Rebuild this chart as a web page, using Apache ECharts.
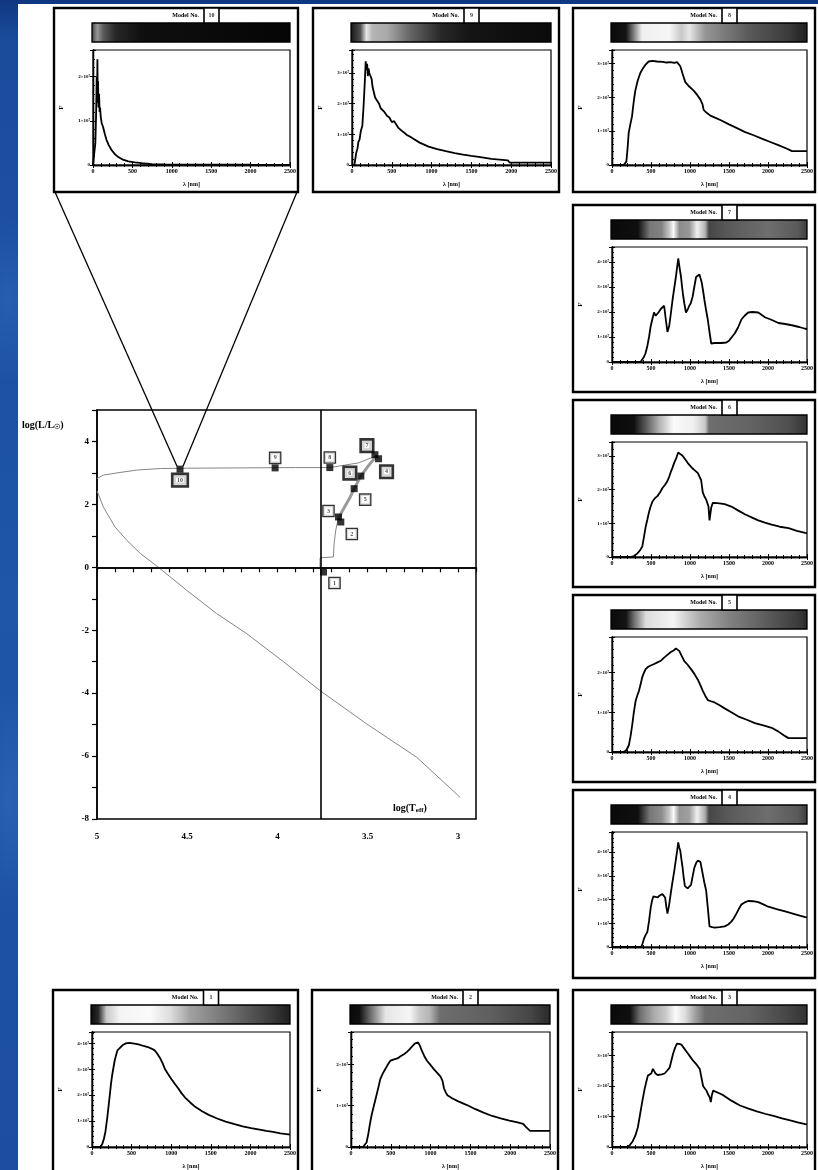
<!DOCTYPE html>
<html>
<head>
<meta charset="utf-8">
<script src="https://cdn.jsdelivr.net/npm/echarts@6/dist/echarts.min.js"></script>
<style>
  html, body { margin: 0; padding: 0; width: 818px; height: 1170px; overflow: hidden; }
  body {
    background:
      radial-gradient(ellipse 60px 120px at 8px 300px, rgba(60,120,200,0.35), rgba(0,0,0,0) 70%),
      radial-gradient(ellipse 50px 160px at 10px 800px, rgba(70,130,210,0.30), rgba(0,0,0,0) 70%),
      linear-gradient(180deg, #103780 0px, #1a4c9c 40px, #1f56a8 600px, #1b4e9e 1170px);
  }
  #sheet { position: absolute; left: 18px; top: 4px; width: 800px; height: 1166px; background: #fff; }
  #chart { position: absolute; left: 0; top: 0; width: 818px; height: 1170px; }
</style>
</head>
<body>
<div id="sheet"></div>
<div id="chart"></div>
<script>
// Stellar models along an evolutionary track: their place in the
// Hertzsprung–Russell diagram and the spectrum of each model.

// ---- HR diagram ----
const modelNo   = [1, 2, 3, 4, 5, 6, 7, 8, 9, 10];
const modelLogT = [3.745, 3.649, 3.662, 3.440, 3.575, 3.538, 3.460, 3.710, 4.013, 4.540];
const modelLogL = [-0.15, 1.44, 1.60, 3.45, 2.50, 2.90, 3.58, 3.17, 3.16, 3.12];

const sunLogT = 3.764;
const sunLogL = 0;

const trackEarly = [[3.764, 0.0], [3.764, 0.30], [3.690, 0.33], [3.686, 0.77], [3.677, 1.18], [3.665, 1.50]];
const trackGiant = [[3.665, 1.50], [3.640, 1.80], [3.600, 2.20], [3.575, 2.50], [3.538, 2.90], [3.500, 3.20], [3.450, 3.55]];
const trackPost  = [[3.450, 3.55], [3.550, 3.32], [3.710, 3.17], [3.900, 3.17], [4.200, 3.16],
                    [4.500, 3.15], [4.650, 3.14], [4.780, 3.09], [4.890, 3.00], [4.965, 2.93], [5.000, 2.82]];
const trackCooling = [[5.000, 2.43], [4.965, 1.92], [4.900, 1.28], [4.835, 0.86], [4.760, 0.44], [4.660, 0.00],
                      [4.503, -0.73], [4.337, -1.47], [4.170, -2.11], [3.967, -3.00], [3.764, -3.92],
                      [3.505, -4.98], [3.228, -6.04], [2.988, -7.31]];

const logTLabels = [3, 3.5, 4, 4.5, 5];
const logLLabels = [-8, -6, -4, -2, 0, 2, 4];

// ---- spectra: [wavelength nm, flux] ----
const spec1 = [[0,0],[107,0],[130,0.12],[150,0.31],[170,0.6],[192,1.11],[210,1.6],[226,2.04],[240,2.45],[256,2.8],[270,3.05],[286,3.33],[300,3.5],[321,3.73],[340,3.8],[363,3.86],[395,3.95],[427,4.0],[470,4.02],[513,4.0],[555,3.98],[598,3.95],[650,3.9],[705,3.86],[750,3.8],[791,3.73],[820,3.62],[855,3.46],[890,3.25],[919,3.02],[960,2.82],[1004,2.62],[1045,2.44],[1090,2.26],[1130,2.08],[1175,1.91],[1240,1.72],[1303,1.55],[1390,1.38],[1474,1.24],[1580,1.1],[1688,0.98],[1800,0.88],[1902,0.8],[2010,0.73],[2115,0.67],[2200,0.62],[2286,0.58],[2380,0.53],[2479,0.49],[2500,0.48]];
const spec2 = [[0,0],[151,0],[175,0.04],[195,0.11],[216,0.3],[238,0.56],[260,0.78],[281,0.95],[303,1.12],[324,1.28],[346,1.46],[368,1.64],[400,1.78],[433,1.89],[465,2.0],[497,2.09],[540,2.12],[584,2.14],[627,2.2],[670,2.25],[703,2.3],[735,2.36],[768,2.43],[800,2.5],[843,2.53],[865,2.45],[887,2.34],[920,2.2],[952,2.09],[995,1.99],[1038,1.89],[1080,1.8],[1125,1.7],[1150,1.6],[1168,1.42],[1190,1.32],[1211,1.25],[1270,1.18],[1341,1.11],[1450,1.02],[1557,0.92],[1665,0.83],[1773,0.75],[1880,0.69],[1990,0.64],[2080,0.6],[2163,0.56],[2200,0.48],[2249,0.39],[2487,0.39],[2500,0.39]];
const spec3 = [[0,0],[202,0],[234,0.08],[266,0.19],[300,0.38],[331,0.64],[352,0.95],[374,1.28],[396,1.6],[417,1.89],[438,2.12],[460,2.34],[482,2.38],[503,2.41],[524,2.56],[540,2.5],[558,2.41],[585,2.36],[610,2.34],[640,2.38],[674,2.41],[706,2.5],[739,2.6],[760,2.82],[782,3.05],[808,3.25],[833,3.39],[860,3.38],[889,3.36],[920,3.25],[954,3.13],[1000,2.97],[1040,2.83],[1085,2.7],[1125,2.56],[1145,2.3],[1168,2.0],[1190,1.92],[1211,1.85],[1233,1.72],[1254,1.62],[1267,1.47],[1280,1.7],[1297,1.85],[1360,1.78],[1426,1.7],[1530,1.52],[1641,1.36],[1750,1.26],[1856,1.17],[1960,1.09],[2070,1.02],[2180,0.94],[2285,0.87],[2380,0.81],[2479,0.75],[2500,0.74]];
const spec4 = [[0,0],[375,0],[392,0.15],[409,0.34],[430,0.5],[453,0.63],[475,1.1],[496,1.65],[513,1.95],[530,2.13],[555,2.05],[582,2.09],[615,2.18],[647,2.23],[665,2.15],[681,2.09],[696,1.7],[711,1.41],[722,1.6],[733,1.79],[755,2.3],[776,2.76],[798,3.2],[819,3.69],[835,4.05],[849,4.41],[862,4.2],[875,4.07],[890,3.7],[905,3.35],[920,2.9],[935,2.57],[950,2.5],[970,2.47],[990,2.55],[1013,2.62],[1035,3.0],[1056,3.35],[1080,3.55],[1099,3.64],[1115,3.62],[1134,3.59],[1150,3.3],[1164,3.06],[1185,2.7],[1207,2.38],[1230,1.6],[1250,0.87],[1285,0.84],[1315,0.82],[1380,0.84],[1444,0.87],[1490,0.95],[1530,1.07],[1560,1.2],[1595,1.41],[1625,1.6],[1659,1.79],[1700,1.88],[1746,1.94],[1810,1.93],[1875,1.89],[1940,1.8],[2004,1.7],[2110,1.6],[2220,1.5],[2350,1.38],[2478,1.26],[2500,1.25]];
const spec5 = [[0,0],[151,0],[185,0.05],[216,0.17],[238,0.4],[259,0.68],[280,1.0],[302,1.28],[323,1.42],[345,1.54],[366,1.7],[388,1.89],[410,2.0],[431,2.09],[465,2.15],[496,2.18],[540,2.22],[582,2.26],[625,2.3],[668,2.38],[710,2.45],[754,2.52],[790,2.56],[819,2.61],[840,2.6],[862,2.55],[895,2.42],[927,2.29],[970,2.2],[1013,2.09],[1056,1.97],[1099,1.83],[1130,1.7],[1164,1.54],[1195,1.42],[1228,1.31],[1270,1.28],[1315,1.25],[1380,1.18],[1444,1.1],[1530,1.0],[1616,0.9],[1720,0.82],[1832,0.73],[1940,0.67],[2047,0.61],[2130,0.52],[2220,0.4],[2263,0.35],[2478,0.35],[2500,0.35]];
const spec6 = [[0,0],[237,0],[280,0.03],[323,0.1],[360,0.2],[388,0.31],[410,0.6],[431,0.89],[452,1.1],[474,1.33],[495,1.5],[517,1.64],[550,1.75],[582,1.81],[615,1.92],[647,2.05],[680,2.15],[711,2.26],[735,2.4],[754,2.53],[775,2.65],[797,2.8],[825,2.95],[849,3.11],[875,3.06],[905,3.01],[940,2.9],[970,2.8],[1000,2.72],[1034,2.63],[1065,2.57],[1099,2.5],[1120,2.4],[1142,2.29],[1164,1.92],[1185,1.8],[1207,1.71],[1237,1.5],[1250,1.09],[1262,1.3],[1272,1.47],[1293,1.61],[1350,1.6],[1400,1.59],[1444,1.57],[1530,1.5],[1620,1.38],[1703,1.27],[1790,1.18],[1875,1.09],[1960,1.02],[2047,0.96],[2150,0.9],[2263,0.86],[2370,0.78],[2478,0.72],[2500,0.71]];
const spec7 = [[0,0],[366,0],[409,0.2],[430,0.35],[453,0.64],[475,1.0],[496,1.43],[520,1.75],[539,1.98],[560,1.85],[582,1.89],[600,2.0],[625,2.12],[645,2.15],[668,2.25],[690,1.7],[711,1.2],[733,1.43],[755,1.95],[776,2.48],[800,3.0],[819,3.4],[835,3.8],[849,4.14],[860,3.9],[871,3.82],[885,3.4],[897,3.04],[910,2.7],[927,2.35],[948,1.98],[970,2.1],[991,2.25],[1010,2.35],[1034,2.62],[1055,3.0],[1078,3.4],[1100,3.48],[1121,3.5],[1135,3.35],[1151,3.17],[1170,2.8],[1185,2.48],[1205,2.1],[1228,1.7],[1250,1.2],[1272,0.74],[1315,0.76],[1400,0.76],[1466,0.78],[1500,0.85],[1530,0.97],[1575,1.15],[1616,1.38],[1659,1.7],[1700,1.85],[1746,1.98],[1800,2.0],[1875,1.98],[1961,1.79],[2050,1.68],[2134,1.56],[2220,1.52],[2306,1.47],[2400,1.4],[2478,1.33],[2500,1.32]];
const spec8 = [[0,0],[150,0],[184,0.1],[200,0.5],[214,0.95],[235,1.2],[256,1.43],[280,1.9],[299,2.2],[330,2.5],[363,2.72],[395,2.85],[427,2.96],[450,3.0],[470,3.06],[520,3.08],[577,3.06],[650,3.05],[700,3.03],[748,3.04],[800,3.02],[833,3.04],[876,2.92],[905,2.7],[940,2.45],[990,2.32],[1047,2.2],[1090,2.08],[1132,1.94],[1160,1.8],[1175,1.63],[1210,1.55],[1261,1.46],[1320,1.4],[1389,1.33],[1500,1.2],[1603,1.09],[1700,0.98],[1816,0.88],[1920,0.78],[2030,0.68],[2140,0.58],[2244,0.48],[2308,0.41],[2479,0.41],[2500,0.41]];
const spec9 = [[0,0],[30,0],[52,0.38],[70,0.55],[80,0.75],[95,0.83],[110,1.1],[130,1.28],[145,1.9],[160,2.66],[172,3.38],[182,3.1],[190,3.3],[199,2.9],[208,3.15],[217,3.0],[230,2.95],[247,2.8],[258,2.55],[269,2.59],[290,2.2],[312,2.14],[340,2.0],[360,1.85],[377,1.91],[400,1.75],[420,1.8],[442,1.6],[470,1.55],[500,1.4],[529,1.43],[580,1.22],[637,1.09],[690,0.98],[745,0.9],[850,0.73],[962,0.6],[1070,0.52],[1179,0.45],[1290,0.39],[1395,0.34],[1500,0.3],[1612,0.26],[1750,0.2],[1958,0.15],[1980,0.08],[2478,0.08],[2500,0.08]];
const spec10 = [[0,0],[13,0],[30,0.5],[40,1.2],[47,2.0],[52,1.4],[56,2.39],[60,1.5],[64,1.9],[70,1.3],[77,1.61],[84,1.2],[90,1.3],[98,1.09],[110,0.95],[128,0.86],[150,0.7],[171,0.57],[200,0.45],[235,0.34],[280,0.24],[321,0.18],[380,0.12],[449,0.08],[530,0.06],[620,0.04],[748,0.02],[900,0.015],[1175,0.01],[1600,0.008],[2000,0.006],[2500,0.005]];

const spectra = [spec1, spec2, spec3, spec4, spec5, spec6, spec7, spec8, spec9, spec10];
const fluxTop = [4.44, 2.78, 3.77, 4.85, 2.9, 3.42, 4.6, 3.4, 3.75, 2.6];
const lambdaMax = 2500;

// grey-scale rendering of each spectrum: [offset, grey level 0-255]
const band1  = [[0,10],[0.04,40],[0.08,200],[0.15,245],[0.3,250],[0.4,220],[0.5,160],[0.7,110],[0.9,60],[1,30]];
const band2  = [[0,10],[0.05,15],[0.1,100],[0.18,230],[0.3,245],[0.35,200],[0.4,180],[0.45,110],[0.7,95],[0.9,70],[1,40]];
const band3  = [[0,10],[0.1,15],[0.15,110],[0.22,170],[0.28,200],[0.33,250],[0.38,220],[0.43,160],[0.48,110],[0.7,100],[0.9,70],[1,50]];
const band4  = [[0,10],[0.14,15],[0.2,120],[0.26,140],[0.3,200],[0.32,250],[0.35,150],[0.4,160],[0.44,240],[0.48,170],[0.5,70],[0.6,90],[0.8,110],[0.95,90],[1,60]];
const band5  = [[0,10],[0.08,20],[0.12,110],[0.18,220],[0.32,245],[0.38,210],[0.46,170],[0.6,130],[0.8,90],[0.95,60],[1,40]];
const band6  = [[0,10],[0.12,15],[0.18,90],[0.25,180],[0.32,250],[0.42,240],[0.48,200],[0.5,110],[0.7,100],[0.9,80],[1,50]];
const band7  = [[0,10],[0.14,15],[0.2,120],[0.26,130],[0.3,200],[0.32,250],[0.35,140],[0.4,150],[0.44,240],[0.48,180],[0.5,70],[0.6,90],[0.8,110],[0.95,90],[1,60]];
const band8  = [[0,10],[0.08,20],[0.12,130],[0.16,240],[0.3,245],[0.36,200],[0.4,230],[0.48,150],[0.7,90],[0.9,60],[1,30]];
const band9  = [[0,20],[0.05,80],[0.08,230],[0.11,180],[0.18,170],[0.3,100],[0.45,40],[0.6,20],[1,10]];
const band10 = [[0,60],[0.03,150],[0.06,90],[0.12,40],[0.25,15],[1,5]];
const bands = [band1, band2, band3, band4, band5, band6, band7, band8, band9, band10];

// ---- layout ----
const SERIF = '"Liberation Serif", "DejaVu Serif", serif';
const hrBox = { left: 97, top: 410, width: 379, height: 409 };
// panel frames: model -> [left, top, width, height]
const panelFrame = {
  10: [54, 8, 244, 184],  9: [313, 8, 246, 184],  8: [573, 8, 242, 184],
  7: [573, 205, 242, 187], 6: [573, 400, 242, 187], 5: [573, 595, 242, 187],
  4: [573, 790, 242, 188], 1: [53, 990, 245, 184],  2: [312, 990, 246, 184],
  3: [573, 990, 242, 184]
};
const panelOrder = [10, 9, 8, 7, 6, 5, 4, 1, 2, 3];
// label box placement around each HR point (pixels)
const labelShift = { 1: [11, 11], 2: [11, 12], 3: [-10, -6], 4: [8, 13], 5: [11, 11],
                     6: [-11, -3], 7: [-8, -9], 8: [0, -10], 9: [0, -10], 10: [0, 11] };
const heavyBox = [4, 6, 7, 10];

const near = (v, list) => list.some(t => Math.abs(v - t) < 1e-6);

const grids = [Object.assign({ show: true, borderColor: '#000', borderWidth: 1.5, backgroundColor: '#fff' }, hrBox)];
const xAxes = [{
  gridIndex: 0, type: 'value', inverse: true, min: 2.9, max: 5, interval: 0.1,
  axisLine: { show: true, lineStyle: { color: '#000', width: 1.5 } },
  axisTick: { show: true, length: 5, lineStyle: { color: '#000', width: 1.2 } },
  axisLabel: { color: '#000', fontFamily: SERIF, fontWeight: 'bold', fontSize: 9, margin: 13,
               formatter: v => near(v, logTLabels) ? String(Math.round(v * 2) / 2) : '' },
  splitLine: { show: false }
}];
const yAxes = [{
  gridIndex: 0, type: 'value', min: -8, max: 5, interval: 1,
  axisLine: { show: true, lineStyle: { color: '#000', width: 1.5 } },
  axisTick: { show: true, length: 5, lineStyle: { color: '#000', width: 1.2 } },
  axisLabel: { color: '#000', fontFamily: SERIF, fontWeight: 'bold', fontSize: 9, margin: 8,
               formatter: v => near(v, logLLabels) ? String(Math.round(v)) : '' },
  splitLine: { show: false }
}];

const trackLine = (data, color, width) => ({
  type: 'line', xAxisIndex: 0, yAxisIndex: 0, data, showSymbol: false, symbol: 'none',
  lineStyle: { color, width }, z: 2, silent: true, animation: false
});

const series = [
  Object.assign(trackLine(trackCooling, '#858585', 1), {
    markLine: {
      silent: true, symbol: ['none', 'none'], label: { show: false }, animation: false,
      lineStyle: { color: '#000', width: 1.6, type: 'solid' },
      data: [{ xAxis: sunLogT }, { yAxis: sunLogL }]
    }
  }),
  trackLine(trackEarly, '#858585', 1),
  trackLine(trackPost, '#858585', 1),
  trackLine(trackGiant, '#9a9a9a', 3),
  {
    type: 'scatter', xAxisIndex: 0, yAxisIndex: 0, symbol: 'rect', symbolSize: 7, z: 5,
    itemStyle: { color: '#000' }, animation: false,
    data: modelNo.map((n, i) => ({
      value: [modelLogT[i], modelLogL[i]],
      label: {
        show: true, formatter: String(n), position: 'inside', offset: labelShift[n],
        backgroundColor: '#fff', borderColor: '#000',
        borderWidth: heavyBox.includes(n) ? 2.6 : 1.3,
        width: n === 10 ? 11 : 8, height: 8, lineHeight: 8, padding: [1, 1],
        align: 'center', verticalAlign: 'middle',
        fontSize: 6, fontFamily: SERIF, fontWeight: 'bold', color: '#222'
      }
    }))
  }
];

const graphics = [];

panelOrder.forEach((n, k) => {
  const [L, T, W, H] = panelFrame[n];
  const gi = k + 1;
  grids.push({ left: L + 39, top: T + 42, width: W - 47, height: 115,
               show: true, borderColor: '#000', borderWidth: 1.2, backgroundColor: '#fff' });
  const tickStyle = { color: '#000', width: 1 };
  const xBase = { gridIndex: gi, type: 'value', min: 0, max: lambdaMax, interval: 500,
                  splitLine: { show: false },
                  axisLine: { show: true, lineStyle: { color: '#000', width: 1.3 } },
                  axisTick: { show: true, inside: true, length: 3, lineStyle: tickStyle },
                  minorTick: { show: true, splitNumber: 5, length: 2, lineStyle: tickStyle } };
  xAxes.push(Object.assign({}, xBase, {
    position: 'bottom',
    axisLabel: { color: '#000', fontFamily: SERIF, fontWeight: 'bold', fontSize: 6, margin: 3,
                 formatter: v => String(Math.round(v)) },
    name: 'λ [nm]', nameLocation: 'middle', nameGap: 16,
    nameTextStyle: { color: '#000', fontFamily: SERIF, fontWeight: 'bold', fontSize: 6 }
  }));
  xAxes.push(Object.assign({}, xBase, { position: 'top', axisLabel: { show: false } }));
  const yBase = { gridIndex: gi, type: 'value', min: 0, max: fluxTop[n - 1], interval: 1,
                  splitLine: { show: false },
                  axisLine: { show: true, lineStyle: { color: '#000', width: 1.3 } },
                  axisTick: { show: true, inside: true, length: 3, lineStyle: tickStyle },
                  minorTick: { show: true, splitNumber: 5, length: 2, lineStyle: tickStyle } };
  yAxes.push(Object.assign({}, yBase, {
    position: 'left',
    axisLabel: { color: '#000', fontFamily: SERIF, fontWeight: 'bold', fontSize: 5, margin: 3,
                 formatter: v => Math.abs(v - Math.round(v)) > 1e-6 ? '' : (v === 0 ? '0' : Math.round(v) + '×10⁷') },
    name: 'F', nameLocation: 'middle', nameGap: 28, nameRotate: 90,
    nameTextStyle: { color: '#000', fontFamily: SERIF, fontWeight: 'bold', fontSize: 7 }
  }));
  yAxes.push(Object.assign({}, yBase, { position: 'right', axisLabel: { show: false },
                                        minorTick: { show: false } }));
  series.push({
    type: 'line', xAxisIndex: 2 * k + 1, yAxisIndex: 2 * k + 1, data: spectra[n - 1],
    showSymbol: false, symbol: 'none', lineStyle: { color: '#000', width: 1.8 },
    animation: false, silent: true
  });

  // frame, colour band and title of the panel
  graphics.push({ type: 'rect', shape: { x: L, y: T, width: W, height: H }, z: 50, silent: true,
                  style: { fill: 'rgba(0,0,0,0)', stroke: '#000', lineWidth: 2.4 } });
  graphics.push({
    type: 'rect', shape: { x: L + 38, y: T + 15, width: W - 46, height: 19 }, z: 50, silent: true,
    style: {
      fill: new echarts.graphic.LinearGradient(0, 0, 1, 0,
        bands[n - 1].map(([o, g]) => ({ offset: o, color: `rgb(${g},${g},${g})` }))),
      stroke: '#000', lineWidth: 1.3
    }
  });
  const cx = L + W / 2;
  graphics.push({ type: 'text', x: cx + 23, y: T + 7, z: 51, silent: true,
                  style: { text: 'Model No.', fill: '#000', fontFamily: SERIF, fontWeight: 'bold',
                           fontSize: 6, align: 'right', verticalAlign: 'middle' } });
  graphics.push({ type: 'rect', shape: { x: cx + 28, y: T, width: 15, height: 15 }, z: 51, silent: true,
                  style: { fill: '#fff', stroke: '#000', lineWidth: 1.6 } });
  graphics.push({ type: 'text', x: cx + 35.5, y: T + 7.5, z: 52, silent: true,
                  style: { text: String(n), fill: '#333', fontFamily: SERIF, fontWeight: 'bold',
                           fontSize: 6, align: 'center', verticalAlign: 'middle' } });
});

// axis titles of the HR diagram
graphics.push({ type: 'text', x: 22, y: 425, z: 60, silent: true,
  style: { text: 'log(L/L{s|☉})', fill: '#000', fontFamily: SERIF, fontWeight: 'bold', fontSize: 10,
           align: 'left', verticalAlign: 'middle',
           rich: { s: { fontFamily: SERIF, fontWeight: 'bold', fontSize: 7, padding: [5, 0, 0, 0] } } } });
graphics.push({ type: 'text', x: 393, y: 808, z: 60, silent: true,
  style: { text: 'log(T{s|eff})', fill: '#000', fontFamily: SERIF, fontWeight: 'bold', fontSize: 10,
           align: 'left', verticalAlign: 'middle',
           rich: { s: { fontFamily: SERIF, fontWeight: 'bold', fontSize: 7, padding: [5, 0, 0, 0] } } } });

const chart = echarts.init(document.getElementById('chart'), null, { renderer: 'canvas' });
chart.setOption({
  backgroundColor: 'rgba(0,0,0,0)',
  animation: false,
  grid: grids, xAxis: xAxes, yAxis: yAxes, series
});

// lines joining the panel of model 10 to its point in the HR diagram
const i10 = modelNo.indexOf(10);
const p10 = chart.convertToPixel({ gridIndex: 0 }, [modelLogT[i10], modelLogL[i10]]);
const [L10, T10, W10, H10] = panelFrame[10];
graphics.push({ type: 'line', z: 40, silent: true,
  shape: { x1: L10 + 1, y1: T10 + H10, x2: p10[0] - 3, y2: p10[1] - 3 },
  style: { stroke: '#000', lineWidth: 1.3 } });
graphics.push({ type: 'line', z: 40, silent: true,
  shape: { x1: L10 + W10 - 1, y1: T10 + H10, x2: p10[0] + 3, y2: p10[1] - 3 },
  style: { stroke: '#000', lineWidth: 1.3 } });

chart.setOption({ graphic: graphics });
</script>
</body>
</html>
